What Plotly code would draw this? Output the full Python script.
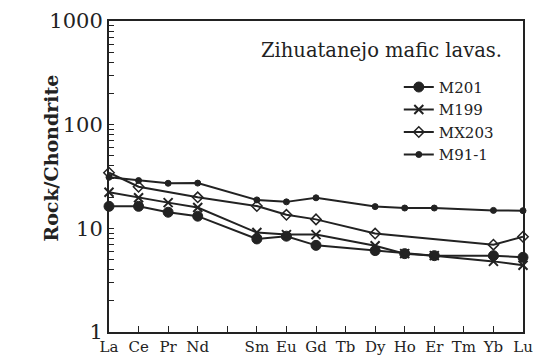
import plotly.graph_objects as go

# full REE list (Pm has no data, only a tick)
elements = ["La", "Ce", "Pr", "Nd", "Pm", "Sm", "Eu", "Gd", "Tb",
            "Dy", "Ho", "Er", "Tm", "Yb", "Lu"]

m201_el = ["La", "Ce", "Pr", "Nd", "Sm", "Eu", "Gd", "Dy", "Ho", "Er", "Yb", "Lu"]
m201 = [16.3, 16.3, 14.3, 13.1, 7.9, 8.4, 6.85, 6.1, 5.7, 5.45, 5.45, 5.25]

m199_el = ["La", "Ce", "Pr", "Nd", "Sm", "Eu", "Gd", "Dy", "Ho", "Er", "Yb", "Lu"]
m199 = [22.3, 19.7, 17.7, 15.9, 9.1, 8.7, 8.7, 6.8, 5.7, 5.45, 4.8, 4.4]

mx203_el = ["La", "Ce", "Nd", "Sm", "Eu", "Gd", "Dy", "Yb", "Lu"]
mx203 = [34.4, 25.2, 19.9, 16.4, 13.5, 12.2, 8.9, 6.96, 8.3]

m91_el = ["La", "Ce", "Pr", "Nd", "Sm", "Eu", "Gd", "Dy", "Ho", "Er", "Yb", "Lu"]
m91 = [31.1, 28.9, 27.2, 27.3, 18.8, 18.0, 19.7, 16.2, 15.7, 15.7, 14.9, 14.8]

ticktext = ["" if e == "Pm" else e for e in elements]
# log ticks 1..1000, labels only on the decades
ytickvals = [m * 10 ** d for d in range(3) for m in range(1, 10)] + [1000]
yticktext = [str(v) if v in (1, 10, 100, 1000) else "" for v in ytickvals]

ink = "#222"
font = "DejaVu Serif"

fig = go.Figure()


def add(name, els, vals, symbol, size, lw=1):
    fig.add_trace(go.Scatter(
        x=[elements.index(e) for e in els], y=vals, name=name,
        mode="lines+markers", cliponaxis=False,
        line=dict(color=ink, width=2),
        marker=dict(symbol=symbol, size=size, color=ink,
                    line=dict(color=ink, width=lw)),
    ))


add("M201", m201_el, m201, "circle", 10)
add("M199", m199_el, m199, "x-thin", 9, 2)
add("MX203", mx203_el, mx203, "diamond-open", 8, 1.5)
add("M91-1", m91_el, m91, "circle", 6)

fig.add_annotation(text="Zihuatanejo mafic lavas.", xref="paper", yref="paper",
                   x=0.955, y=0.905, xanchor="right", yanchor="middle",
                   showarrow=False, font=dict(family=font, size=19.5, color=ink))
# y axis title placed by hand
fig.add_annotation(text="<b>Rock/Chondrite</b>", xref="paper", yref="paper",
                   x=-0.172, y=0.56, textangle=-90, showarrow=False,
                   font=dict(family=font, size=19, color=ink))

fig.update_xaxes(range=[0, 14], tickvals=list(range(len(elements))),
                 ticktext=ticktext, ticks="inside", ticklen=6,
                 tickcolor=ink, showline=True, linecolor=ink, linewidth=2,
                 mirror=True, showgrid=False, zeroline=False, automargin=False,
                 tickfont=dict(family=font, size=15, color=ink))
fig.update_yaxes(type="log", range=[0, 3], tickvals=ytickvals,
                 ticktext=yticktext, ticks="inside", ticklen=5, tickcolor=ink,
                 showline=True, linecolor=ink, linewidth=2, mirror=True,
                 showgrid=False, zeroline=False, automargin=False,
                 tickfont=dict(family=font, size=21, color=ink))

fig.update_layout(
    width=537, height=358,
    margin=dict(l=109, r=14, t=21, b=26),
    paper_bgcolor="white", plot_bgcolor="white",
    legend=dict(x=0.70, y=0.84, xanchor="left", yanchor="top",
                bgcolor="rgba(0,0,0,0)", tracegroupgap=0,
                font=dict(family=font, size=15, color=ink)),
)

fig.write_html("out.html", config={"displayModeBar": False},
               post_script="document.body.style.margin='0';")
